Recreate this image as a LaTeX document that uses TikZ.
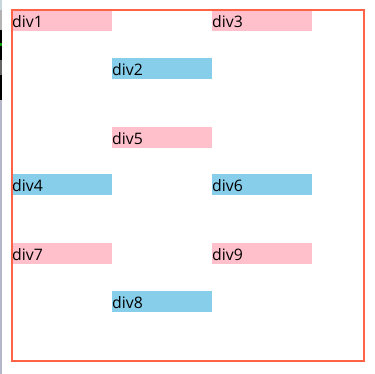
\documentclass[tikz,border=0pt]{standalone}
\usepackage{fontspec}
\setmainfont{Open Sans}
\definecolor{pinkc}{HTML}{FFC0CB}
\definecolor{bluec}{HTML}{87CEEB}
\definecolor{tomatoc}{HTML}{FF6347}
\begin{document}
\begin{tikzpicture}[x=1pt,y=-1pt,
  divbox/.style={anchor=north west, minimum width=100pt, minimum height=20.7pt, inner sep=0pt, outer sep=0pt, text height=0pt, text depth=0pt},
  lbl/.style={anchor=base west, inner sep=0pt, font=\fontsize{15.8}{18}\selectfont}]
\useasboundingbox (0,0) rectangle (375,374);
\fill[white] (0,0) rectangle (375,374);
% left edge artifacts
\fill[cyan!25!gray!40] (0,0) rectangle (2,10);
\fill[gray!60] (0,10) rectangle (2,30);
\fill[black] (0,30) rectangle (2,100);
\fill[green!60!black] (0,43) rectangle (2,46);
\fill[gray!80!black] (0,60) rectangle (2,75);
\fill[blue!15!gray!50] (0,100) rectangle (1.5,374);
% divs
\node[divbox, fill=pinkc] (d1) at (12,10) {};
\node[divbox, fill=pinkc] (d3) at (212,10) {};
\node[divbox, fill=bluec] (d2) at (112,58) {};
\node[divbox, fill=pinkc] (d5) at (112,127) {};
\node[divbox, fill=bluec] (d4) at (12,174) {};
\node[divbox, fill=bluec] (d6) at (212,174) {};
\node[divbox, fill=pinkc] (d7) at (12,243) {};
\node[divbox, fill=pinkc] (d9) at (212,243) {};
\node[divbox, fill=bluec] (d8) at (112,291) {};
\foreach \n/\t in {d1/div1,d3/div3,d2/div2,d5/div5,d4/div4,d6/div6,d7/div7,d9/div9,d8/div8}
  \node[lbl] (t\n) at ([yshift=-17.3pt]\n.north west) {\t};
% border
\node[draw=tomatoc, line width=2.2pt, anchor=north west, minimum width=352pt, minimum height=351pt, inner sep=0pt] (frame) at (11,9) {};
\end{tikzpicture}
\end{document}
